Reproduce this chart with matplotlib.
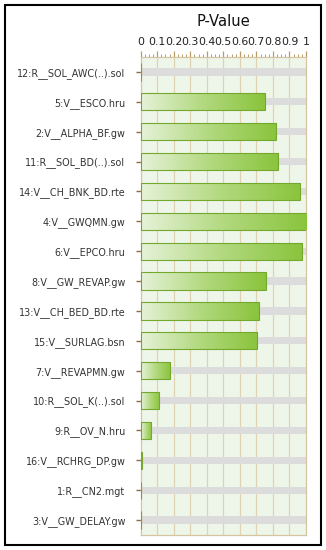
import matplotlib
matplotlib.use("Agg")
import matplotlib.pyplot as plt
import numpy as np
from matplotlib.patches import Rectangle
from matplotlib.colors import LinearSegmentedColormap
from matplotlib.ticker import MultipleLocator

params = ["12:R__SOL_AWC(..).sol", "5:V__ESCO.hru", "2:V__ALPHA_BF.gw",
          "11:R__SOL_BD(..).sol", "14:V__CH_BNK_BD.rte", "4:V__GWQMN.gw",
          "6:V__EPCO.hru", "8:V__GW_REVAP.gw", "13:V__CH_BED_BD.rte",
          "15:V__SURLAG.bsn", "7:V__REVAPMN.gw", "10:R__SOL_K(..).sol",
          "9:R__OV_N.hru", "16:V__RCHRG_DP.gw", "1:R__CN2.mgt", "3:V__GW_DELAY.gw"]
pvalues = [0.0, 0.75, 0.82, 0.83, 0.965, 1.0, 0.975, 0.756, 0.713, 0.703,
           0.177, 0.11, 0.065, 0.008, 0.0, 0.0]
tick_vals = [0, 0.1, 0.2, 0.3, 0.4, 0.5, 0.6, 0.7, 0.8, 0.9, 1]
tick_labels = ["0", "0.1", "0.2", "0.3", "0.4", "0.5", "0.6", "0.7", "0.8", "0.9", "1"]

W, H = 326, 550
fig = plt.figure(figsize=(W / 100, H / 100), dpi=100)
fig.patch.set_facecolor("white")

ax = fig.add_axes([140.7 / W, 1 - 535 / H, (306 - 140.7) / W, (535 - 57) / H])
ax.set_facecolor("#eef6ea")
ax.set_xlim(0, 1)
ax.set_ylim(len(params) - 0.5, -0.5)

y = np.arange(len(params))
# grey tracks
ax.barh(y, [1] * len(params), height=0.24, left=0, color="#dcdcdc", zorder=2)

cmap = LinearSegmentedColormap.from_list("g", ["#e6f2d8", "#b2d97f", "#8ac43c"])
bars = ax.barh(y, pvalues, height=0.58, color="none", edgecolor="#74a82c",
               linewidth=0.8, zorder=4)
grad = np.linspace(0, 1, 256).reshape(1, -1)
for b, v in zip(bars, pvalues):
    if v <= 0:
        continue
    x0, y0 = b.get_x(), b.get_y()
    w, h = b.get_width(), b.get_height()
    im = ax.imshow(grad, cmap=cmap, aspect="auto", extent=(x0, x0 + w, y0 + h, y0),
                   zorder=3, interpolation="bilinear")
    im.set_clip_path(Rectangle((x0, y0), w, h, transform=ax.transData))
ax.set_xlim(0, 1)
ax.set_ylim(len(params) - 0.5, -0.5)

for xv in tick_vals[1:-1]:
    ax.axvline(xv, color="#dfd2b2", linewidth=0.9, zorder=1)

ax.xaxis.tick_top()
ax.set_xticks(tick_vals)
ax.set_xticklabels(tick_labels)
ax.xaxis.set_minor_locator(MultipleLocator(0.025))
ax.tick_params(axis="x", which="major", direction="out", length=4, width=0.9,
               color="#b89d6a", pad=3, labelsize=7.9, labelcolor="#222222")
ax.tick_params(axis="x", which="minor", direction="out", length=2, width=0.7,
               color="#b89d6a")
ax.set_yticks(y)
ax.set_yticklabels(params)
ax.tick_params(axis="y", direction="inout", length=7, width=1.0, color="#8b6f45",
               pad=7.5, labelsize=6.95, labelcolor="#333333")
for s in ax.spines.values():
    s.set_color("#d4c4a0")
    s.set_linewidth(0.9)

fig.text(223 / W, 1 - 22 / H, "P-Value", ha="center", va="center", fontsize=10.6,
         color="#111111")

frame = Rectangle((5 / W, 1 - 545 / H), 316 / W, 540 / H, transform=fig.transFigure,
                  fill=False, edgecolor="black", linewidth=1.5)
fig.patches.append(frame)

fig.savefig("out.png", dpi=100, facecolor="white")
